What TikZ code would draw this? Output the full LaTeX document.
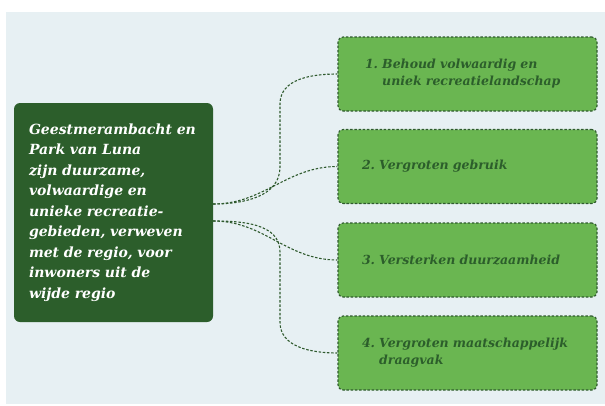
\documentclass[tikz,border=0pt]{standalone}
\usepackage{fontspec}
\setmainfont{DejaVu Serif}

\definecolor{bgblue}{HTML}{E7F0F3}
\definecolor{darkgreen}{HTML}{2C5E2B}
\definecolor{lightgreen}{HTML}{6AB651}
\definecolor{linegreen}{HTML}{2F5A2E}

\begin{document}
\begin{tikzpicture}[x=1pt, y=-1pt,
	mainbox/.style={fill=darkgreen, rounded corners=6pt, minimum width=199pt,
		minimum height=219pt, text width=169pt, inner xsep=15pt, align=left,
		text=white, font=\fontsize{14}{20.5}\selectfont\bfseries\itshape},
	goal/.style={draw=linegreen, fill=lightgreen, line width=1.1pt,
		dash pattern=on 2.5pt off 1.7pt, rounded corners=5pt, minimum height=74pt,
		text width=211pt, inner xsep=24pt, align=left, text=darkgreen,
		font=\fontsize{12.5}{17}\selectfont\bfseries\itshape},
	link/.style={draw=linegreen, line width=1.1pt, dash pattern=on 2.5pt off 1.7pt}]

	\useasboundingbox (0,0) rectangle (605,405);
	\fill[bgblue] (6,12) rectangle (605,404);

	\node[mainbox] (main) at (113.5,212.5) {Geestmerambacht en\\ Park van Luna\\
		zijn duurzame,\\ volwaardige en\\ unieke recreatie-\\ gebieden, verweven\\
		met de regio, voor\\ inwoners uit de\\ wijde regio};

	\node[goal] (b1) at (467.5,74) {\hspace*{3pt}1.\ Behoud volwaardig en\\
		\hspace*{3pt}\phantom{1.\ }uniek recreatielandschap};
	\node[goal] (b2) at (467.5,166.5) {2.\ Vergroten gebruik};
	\node[goal] (b3) at (467.5,260) {3.\ Versterken duurzaamheid};
	\node[goal] (b4) at (467.5,353) {4.\ Vergroten maatschappelijk\\
		\phantom{4.\ }draagvak};

	\draw[link] ([yshift=8.5pt]main.east) to[out=0, in=-90] (280,167) -- (280,104)
		to[out=90, in=180] (b1.west);
	\draw[link] ([yshift=8.5pt]main.east) to[out=0, in=180] (b2.west);
	\draw[link] ([yshift=-8.5pt]main.east) to[out=0, in=180] (b3.west);
	\draw[link] ([yshift=-8.5pt]main.east) to[out=0, in=90] (280,252) -- (280,322)
		to[out=-90, in=180] (b4.west);

\end{tikzpicture}
\end{document}
